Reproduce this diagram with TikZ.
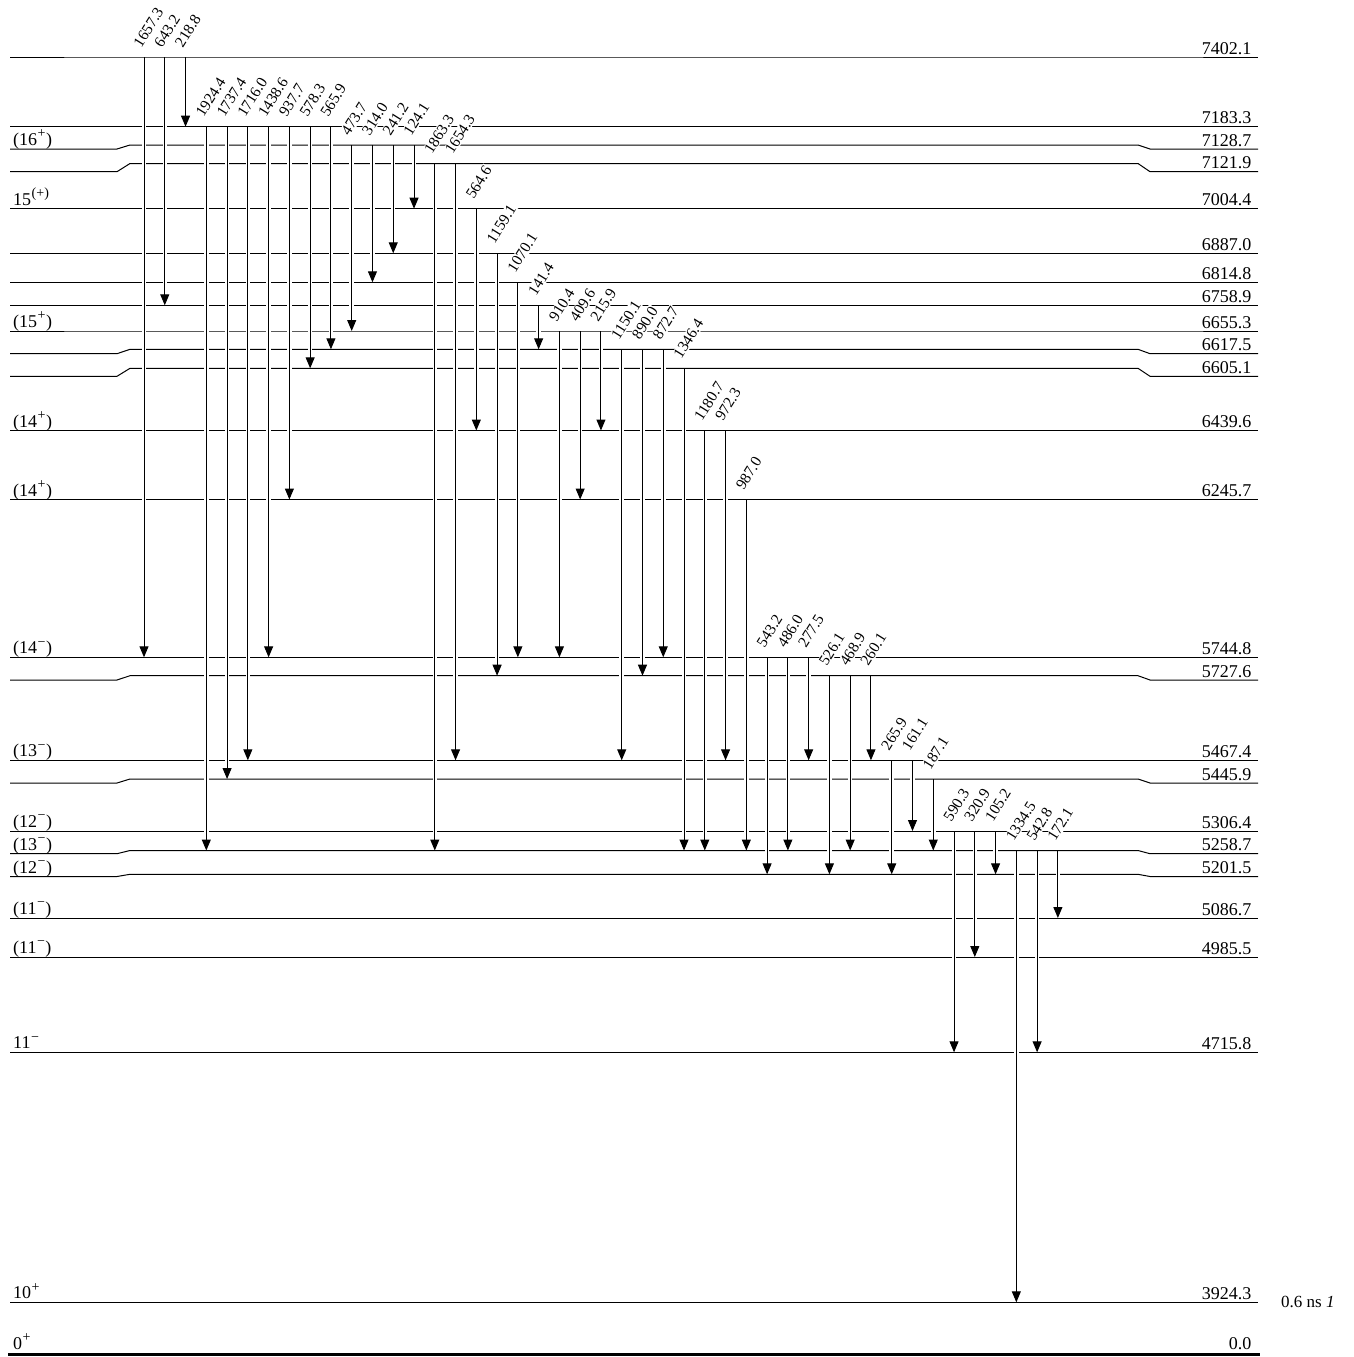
\documentclass[tikz,border=0pt]{standalone}
\usepackage{fontspec}
\setmainfont{Liberation Serif}
\usetikzlibrary{arrows.meta}
\newcommand{\sps}[1]{\kern0.5pt\raisebox{0.42em}{\fontsize{14}{14}\selectfont #1}\kern0.5pt}
\begin{document}
\begin{tikzpicture}[x=1pt,y=-1pt,
  levelline/.style={line width=1pt, line join=miter},
  gline/.style={line width=1pt, -{Triangle[width=9pt,length=11pt]}},
  halo/.style={white, line width=4.5pt},
  elabel/.style={anchor=base east, inner sep=0pt, font=\fontsize{18}{21}\selectfont},
  slabel/.style={anchor=base west, inner sep=0pt, font=\fontsize{18}{21}\selectfont},
  glabel/.style={anchor=south west, rotate=58, inner sep=1pt, fill=white, font=\fontsize{15.5}{18}\selectfont},
]
\useasboundingbox (0,0) rectangle (1354,1357);

% levels: energy / main y / side y / spin
\foreach \e/\ym/\ys/\sp [count=\i] in {
  7402.1/57/57/{},
  7183.3/126.7/126.7/{},
  7128.7/145/149/{(16\sps{+})},
  7121.9/163.5/171.7/{},
  7004.4/208.7/208.7/{15\sps{(+)}},
  6887.0/253.3/253.3/{},
  6814.8/282.3/282.3/{},
  6758.9/305.3/305.3/{},
  6655.3/331/331/{(15\sps{+})},
  6617.5/349.3/353.7/{},
  6605.1/368.3/376.3/{},
  6439.6/430.5/430.5/{(14\sps{+})},
  6245.7/499.5/499.5/{(14\sps{+})},
  5744.8/657.3/657.3/{(14\sps{−})},
  5727.6/675.7/680/{},
  5467.4/760.3/760.3/{(13\sps{−})},
  5445.9/779/783/{},
  5306.4/831/831/{(12\sps{−})},
  5258.7/850.5/853.7/{(13\sps{−})},
  5201.5/874.3/876.5/{(12\sps{−})},
  5086.7/918/918/{(11\sps{−})},
  4985.5/957/957/{(11\sps{−})},
  4715.8/1052.3/1052.3/{11\sps{−}},
  3924.3/1302.3/1302.3/{10\sps{+}}}
{
  \draw[levelline] (10,\ys) -- (117,\ys) -- (130,\ym) -- (1138,\ym) -- (1150,\ys) -- (1258,\ys);
  \node[elabel] (E\i) at (1251.5,{\ys-3}) {\e};
  \node[slabel] (S\i) at (13,{\ys-3.5}) {\sp};
}
\draw[line width=3.5pt] (8,1354.5) -- (1260,1354.5);
\node[elabel] (E0) at (1251.5,1349.5) {0.0};
\node[slabel] (S0) at (13,1349.5) {0\sps{+}};
\node[anchor=west, inner sep=0pt, font=\fontsize{17}{20}\selectfont] (T) at (1281,1302.3) {0.6 ns \textit{1}};

% transitions: column / energy / start y / end y
\def\tlist{
  0/1657.3/57/657.3, 1/643.2/57/305.3, 2/218.8/57/126.7,
  3/1924.4/126.7/850.5, 4/1737.4/126.7/779, 5/1716.0/126.7/760.3,
  6/1438.6/126.7/657.3, 7/937.7/126.7/499.5, 8/578.3/126.7/368.3,
  9/565.9/126.7/349.3, 10/473.7/145/331, 11/314.0/145/282.3,
  12/241.2/145/253.3, 13/124.1/145/208.7, 14/1863.3/163.5/850.5,
  15/1654.3/163.5/760.3, 16/564.6/208.7/430.5, 17/1159.1/253.3/675.7,
  18/1070.1/282.3/657.3, 19/141.4/305.3/349.3, 20/910.4/331/657.3,
  21/409.6/331/499.5, 22/215.9/331/430.5, 23/1150.1/349.3/760.3,
  24/890.0/349.3/675.7, 25/872.7/349.3/657.3, 26/1346.4/368.3/850.5,
  27/1180.7/430.5/850.5, 28/972.3/430.5/760.3, 29/987.0/499.5/850.5,
  30/543.2/657.3/874.3, 31/486.0/657.3/850.5, 32/277.5/657.3/760.3,
  33/526.1/675.7/874.3, 34/468.9/675.7/850.5, 35/260.1/675.7/760.3,
  36/265.9/760.3/874.3, 37/161.1/760.3/831, 38/187.1/779/850.5,
  39/590.3/831/1052.3, 40/320.9/831/957, 41/105.2/831/874.3,
  42/1334.5/850.5/1302.3, 43/542.8/850.5/1052.3, 44/172.1/850.5/918}

\foreach \k/\g/\ya/\yb in \tlist {
  \pgfmathsetmacro\xx{144+20.77*\k}
  \draw[halo] (\xx,{\ya+3}) -- (\xx,{\yb-12});
  \draw[gline] (\xx,\ya) -- (\xx,\yb);
}
\foreach \k/\g/\ya/\yb in \tlist {
  \pgfmathsetmacro\xx{144+20.77*\k}
  \node[glabel] (G\k) at ({\xx-2},{\ya-7}) {\g};
}
\end{tikzpicture}
\end{document}
